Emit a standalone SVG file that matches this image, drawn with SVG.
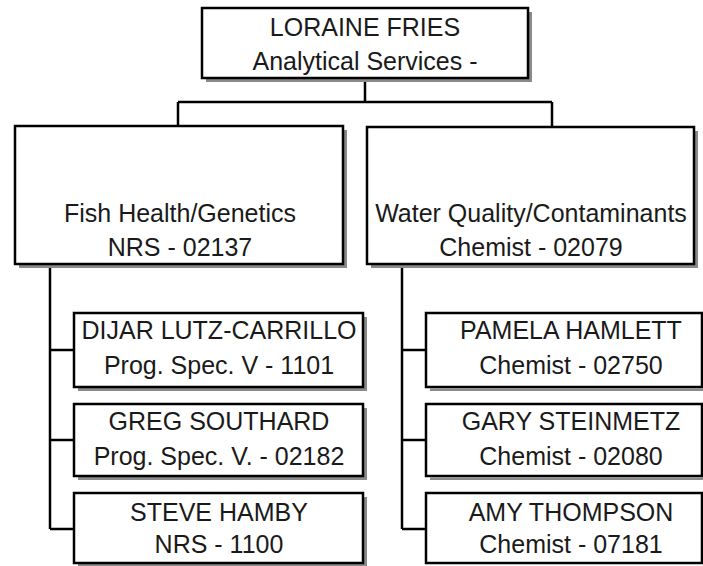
<svg xmlns="http://www.w3.org/2000/svg" width="703" height="566" viewBox="0 0 703 566">
<style>
.sh{fill:#8a8a8a}
.bx{fill:#fff;stroke:#000;stroke-width:2.5}
.t{font-family:"Liberation Sans",Arial,sans-serif;font-size:25px;fill:#1a1a1a;text-anchor:middle}
.c{fill:none;stroke:#000;stroke-width:2.5}
</style>
<rect width="703" height="566" fill="#fff"/>
<g id="connectors">
<path class="c" d="M365 78V102M178 102H552M178 102V126M552 102V127"/>
<path class="c" d="M50 264V529M50 350H74M50 440H74M50 529H74"/>
<path class="c" d="M402 264V529M402 350H426M402 440H426M402 529H426"/>
</g>
<g id="n0">
<rect class="sh" x="206" y="12" width="326" height="70"/>
<rect class="bx" x="202" y="8" width="326" height="70"/>
<text class="t" x="365" y="36">LORAINE FRIES</text>
<text class="t" x="365" y="70">Analytical Services -</text>
</g>
<g id="n1">
<rect class="sh" x="19" y="130" width="328" height="138"/>
<rect class="bx" x="15" y="126" width="328" height="138"/>
<text class="t" x="180" y="222">Fish Health/Genetics</text>
<text class="t" x="180" y="256">NRS - 02137</text>
</g>
<g id="n2">
<rect class="sh" x="371" y="131" width="327" height="137"/>
<rect class="bx" x="367" y="127" width="327" height="137"/>
<text class="t" x="531" y="222">Water Quality/Contaminants</text>
<text class="t" x="531" y="256">Chemist - 02079</text>
</g>
<g id="n3">
<rect class="sh" x="78" y="317" width="289" height="74"/>
<rect class="bx" x="74" y="313" width="289" height="74"/>
<text class="t" x="219" y="339">DIJAR LUTZ-CARRILLO</text>
<text class="t" x="219" y="374">Prog. Spec. V - 1101</text>
</g>
<g id="n4">
<rect class="sh" x="78" y="408" width="289" height="72"/>
<rect class="bx" x="74" y="404" width="289" height="72"/>
<text class="t" x="219" y="430">GREG SOUTHARD</text>
<text class="t" x="219" y="465">Prog. Spec. V. - 02182</text>
</g>
<g id="n5">
<rect class="sh" x="78" y="497" width="289" height="72"/>
<rect class="bx" x="74" y="493" width="289" height="70"/>
<text class="t" x="219" y="521">STEVE HAMBY</text>
<text class="t" x="219" y="553">NRS - 1100</text>
</g>
<g id="n6">
<rect class="bx" x="426" y="313" width="276" height="74"/>
<rect class="sh" x="430" y="388.25" width="273" height="2.75"/>
<text class="t" x="571" y="339">PAMELA HAMLETT</text>
<text class="t" x="571" y="374">Chemist - 02750</text>
</g>
<g id="n7">
<rect class="bx" x="426" y="404" width="276" height="72"/>
<rect class="sh" x="430" y="477.25" width="273" height="2.75"/>
<text class="t" x="571" y="430">GARY STEINMETZ</text>
<text class="t" x="571" y="465">Chemist - 02080</text>
</g>
<g id="n8">
<rect class="bx" x="426" y="493" width="276" height="70"/>
<text class="t" x="571" y="521">AMY THOMPSON</text>
<text class="t" x="571" y="553">Chemist - 07181</text>
</g>
</svg>
